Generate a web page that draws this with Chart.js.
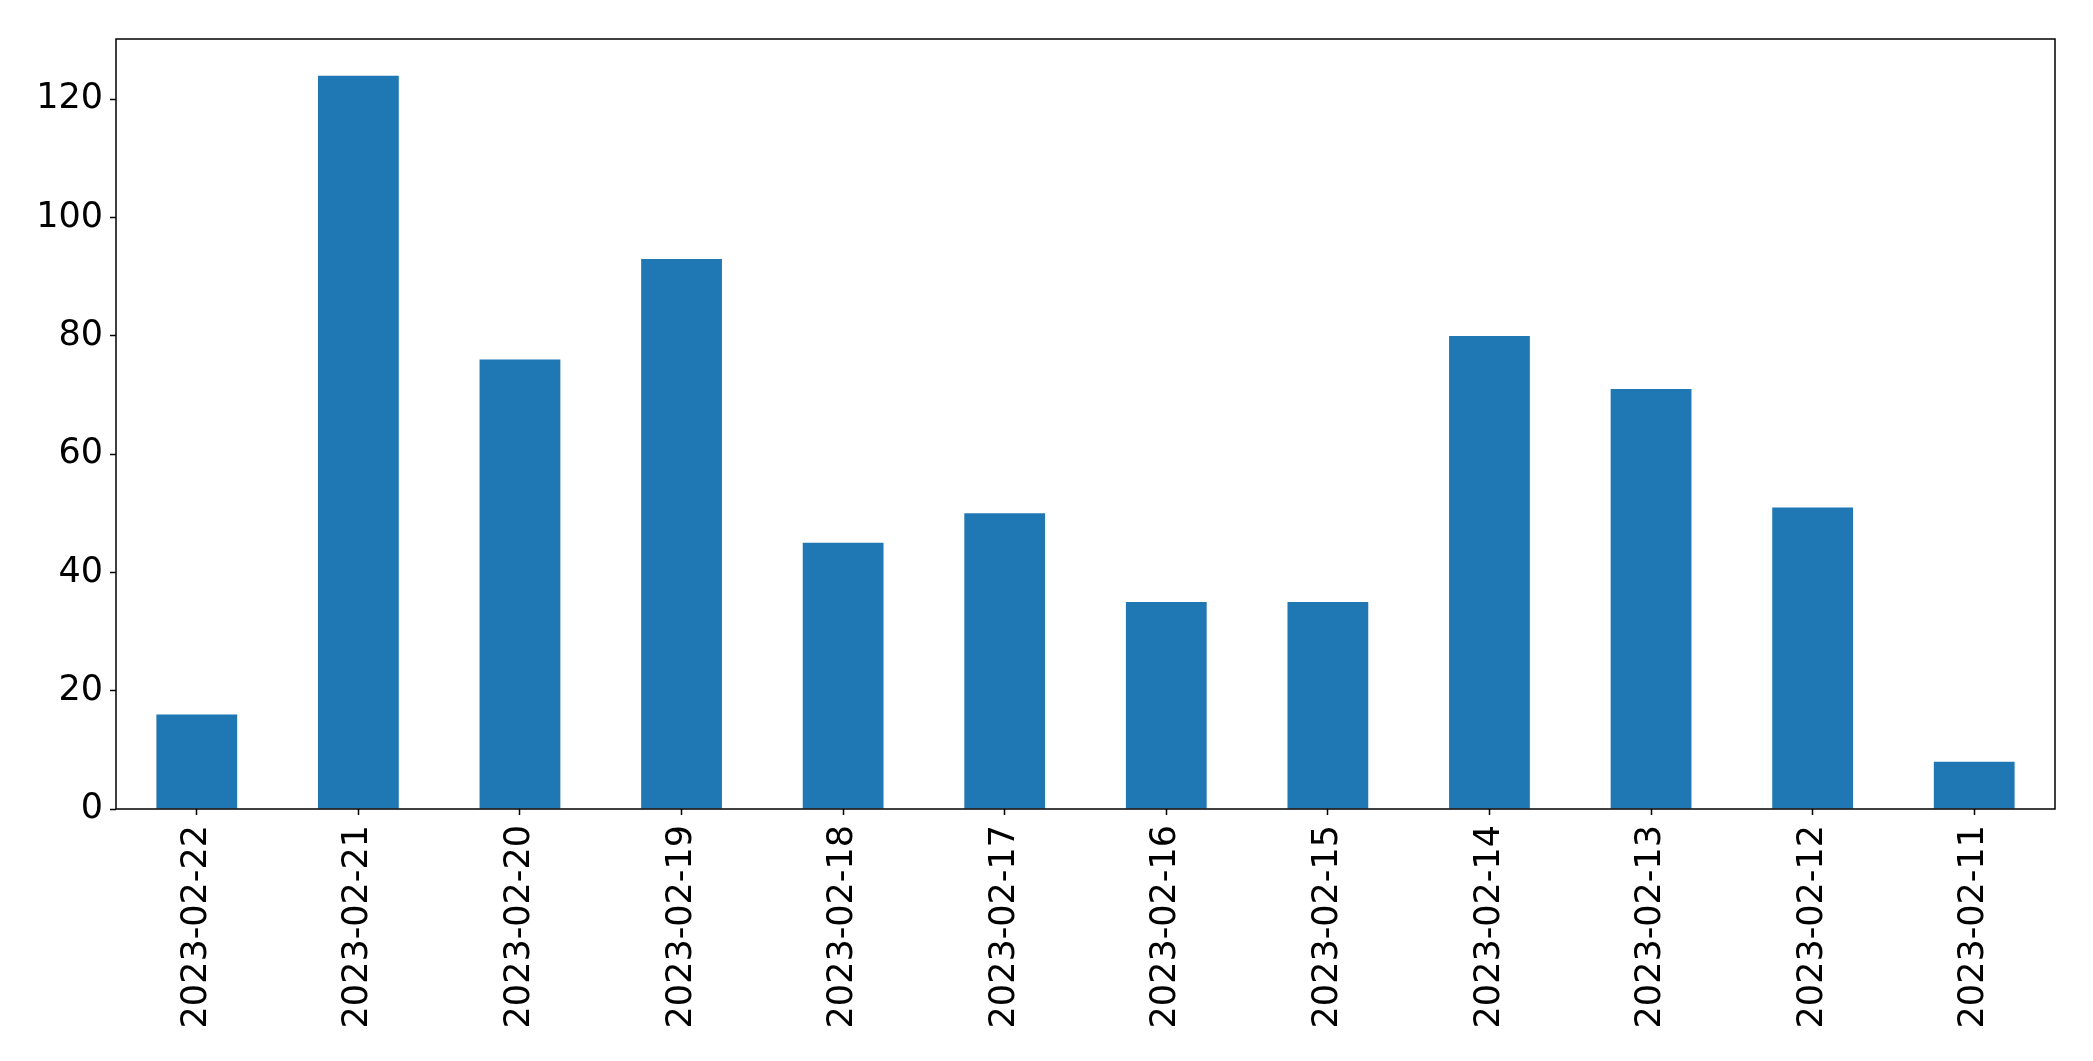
<!DOCTYPE html>
<html>
<head>
<meta charset="utf-8">
<script src="https://cdn.jsdelivr.net/npm/chart.js@4.4.1/dist/chart.umd.min.js"></script>
<style>
  html, body { margin: 0; padding: 0; background: #fff; }
  #wrap { width: 2093px; height: 1061px; }
</style>
</head>
<body>
<div id="wrap"><canvas id="chart" width="2093" height="1061"></canvas></div>
<script>
const dates = ["2023-02-22", "2023-02-21", "2023-02-20", "2023-02-19", "2023-02-18", "2023-02-17",
    "2023-02-16", "2023-02-15", "2023-02-14", "2023-02-13", "2023-02-12", "2023-02-11"];
const counts = [16, 124, 76, 93, 45, 50, 35, 35, 80, 71, 51, 8];
const yTicks = [0, 20, 40, 60, 80, 100, 120];

// black frame round the plot area, like matplotlib spines
const frame = {
    id: 'frame',
    afterDraw(chart) {
        const a = chart.chartArea;
        const ctx = chart.ctx;
        ctx.save();
        ctx.strokeStyle = '#000';
        ctx.lineWidth = 1.5;
        ctx.strokeRect(a.left, a.top, a.right - a.left, a.bottom - a.top);
        ctx.restore();
    }
};

const ctx = document.getElementById('chart');
new Chart(ctx, {
    type: 'bar',
    data: {
        labels: dates,
        datasets: [{
            data: counts,
            backgroundColor: '#1f77b4',
            borderWidth: 0,
            categoryPercentage: 1.0,
            barPercentage: 0.5
        }]
    },
    options: {
        responsive: false,
        animation: false,
        devicePixelRatio: 1,
        layout: {
            padding: { left: 0, right: 38, top: 39, bottom: 0 }
        },
        scales: {
            x: {
                offset: true,
                grid: {
                    display: true,
                    drawOnChartArea: false,
                    drawTicks: true,
                    tickLength: 6,
                    tickColor: '#000',
                    tickWidth: 1.5,
                    offset: false
                },
                border: { display: false },
                ticks: {
                    color: '#000',
                    font: { family: 'DejaVu Sans', size: 35 },
                    minRotation: 90,
                    maxRotation: 90,
                    padding: 10,
                    autoSkip: false
                },
                afterFit(scale) { scale.height = 252; }
            },
            y: {
                min: 0,
                max: 130.2,
                afterBuildTicks(scale) {
                    scale.ticks = yTicks.map(v => ({ value: v }));
                },
                grid: {
                    display: true,
                    drawOnChartArea: false,
                    drawTicks: true,
                    tickLength: 6,
                    tickColor: '#000',
                    tickWidth: 1.5
                },
                border: { display: false },
                ticks: {
                    color: '#000',
                    font: { family: 'DejaVu Sans', size: 35 },
                    padding: 7
                },
                afterFit(scale) { scale.width = 116; }
            }
        },
        plugins: {
            legend: { display: false },
            tooltip: { enabled: false }
        }
    },
    plugins: [frame]
});
</script>
</body>
</html>
